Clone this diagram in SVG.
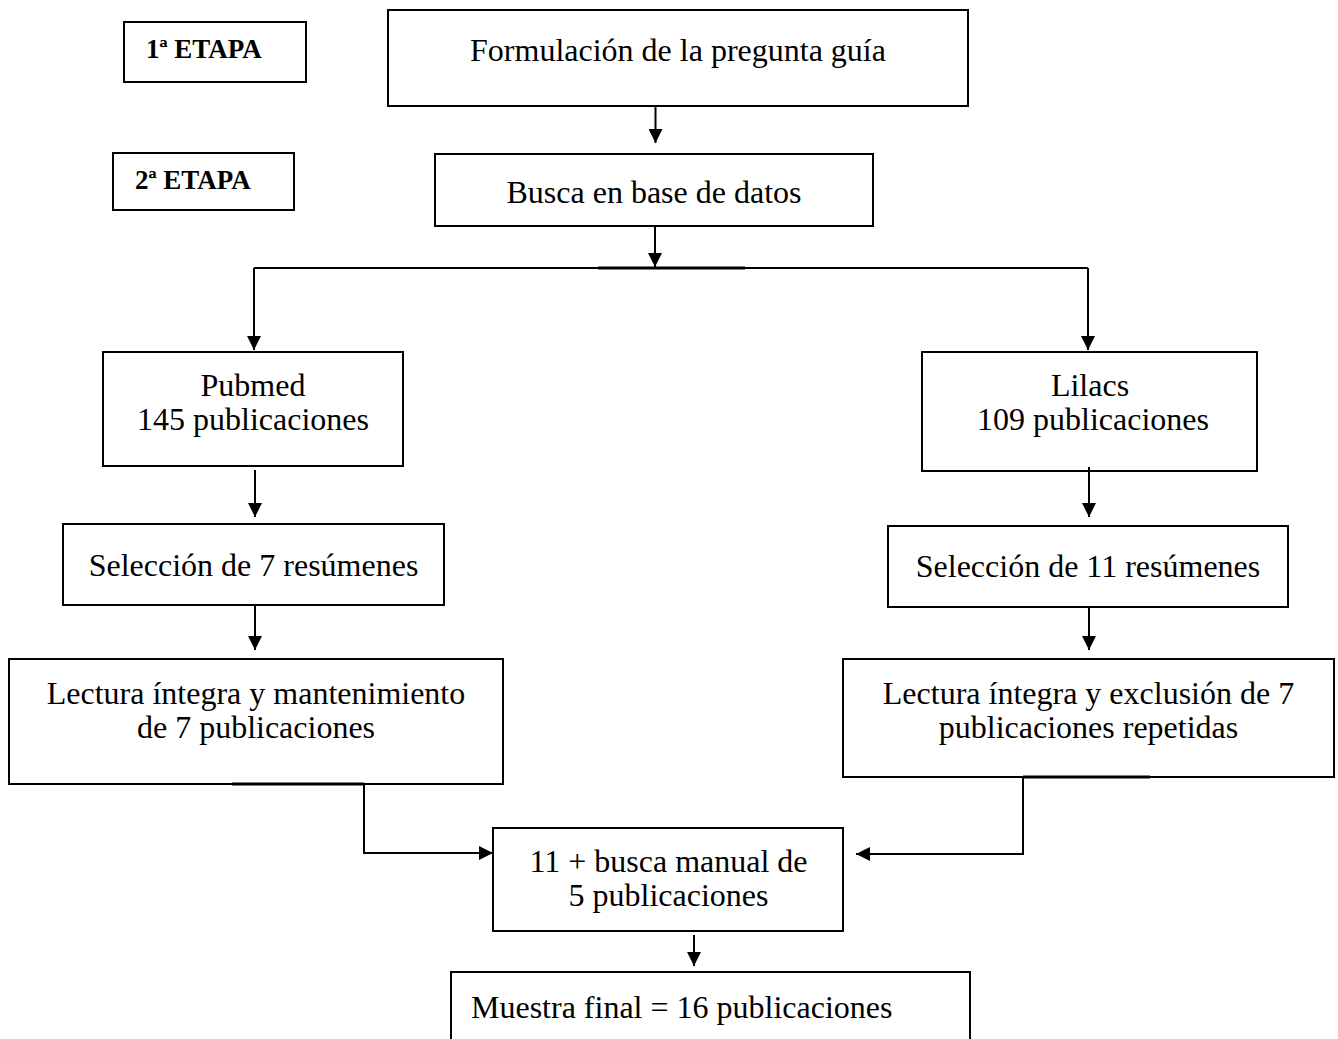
<svg xmlns="http://www.w3.org/2000/svg" width="1338" height="1039" viewBox="0 0 1338 1039">
<style>
  .box { fill: #fff; stroke: #000; stroke-width: 2; }
  .t { font-family: "Liberation Serif", "Times New Roman", serif; font-size: 32px; fill: #000; }
  .c { text-anchor: middle; }
  .b { font-family: "Liberation Serif", "Times New Roman", serif; font-size: 27px; font-weight: bold; fill: #000; }
  .ln { fill: none; stroke: #000; stroke-width: 2; }
  .arr { marker-end: url(#ah); }
  .thick { stroke: #000; stroke-width: 3; }
</style>
<defs>
  <marker id="ah" viewBox="0 0 10 10" refX="10" refY="5" markerUnits="userSpaceOnUse" markerWidth="15" markerHeight="14" orient="auto">
    <path d="M0,0 L10,5 L0,10 z" fill="#000"/>
  </marker>
</defs>
<rect width="1338" height="1039" fill="#fff"/>

<g id="etapa1">
  <rect class="box" x="124" y="22" width="182" height="60"/>
  <text class="b" x="146" y="58">1ª ETAPA</text>
</g>
<g id="etapa2">
  <rect class="box" x="113" y="153" width="181" height="57"/>
  <text class="b" x="135" y="189">2ª ETAPA</text>
</g>
<g id="formulacion">
  <rect class="box" x="388" y="10" width="580" height="96"/>
  <text class="t c" x="678" y="61">Formulación de la pregunta guía</text>
</g>
<g id="busca">
  <rect class="box" x="435" y="154" width="438" height="72"/>
  <text class="t c" x="654" y="203">Busca en base de datos</text>
</g>
<g id="pubmed">
  <rect class="box" x="103" y="352" width="300" height="114"/>
  <text class="t c" x="253" y="396">Pubmed</text>
  <text class="t c" x="253" y="430">145 publicaciones</text>
</g>
<g id="lilacs">
  <rect class="box" x="922" y="352" width="335" height="119"/>
  <text class="t c" x="1090" y="396">Lilacs</text>
  <text class="t c" x="1093" y="430">109 publicaciones</text>
</g>
<g id="seleccion7">
  <rect class="box" x="63" y="524" width="381" height="81"/>
  <text class="t c" x="253.5" y="576">Selección de 7 resúmenes</text>
</g>
<g id="seleccion11">
  <rect class="box" x="888" y="526" width="400" height="81"/>
  <text class="t c" x="1088" y="577">Selección de 11 resúmenes</text>
</g>
<g id="lectura1">
  <rect class="box" x="9" y="659" width="494" height="125"/>
  <text class="t c" x="256" y="704">Lectura íntegra y mantenimiento</text>
  <text class="t c" x="256" y="738">de 7 publicaciones</text>
</g>
<g id="lectura2">
  <rect class="box" x="843" y="659" width="491" height="118"/>
  <text class="t c" x="1088.5" y="704">Lectura íntegra y exclusión de 7</text>
  <text class="t c" x="1088.5" y="738">publicaciones repetidas</text>
</g>
<g id="manual">
  <rect class="box" x="493" y="828" width="350" height="103"/>
  <text class="t c" x="668.5" y="872">11 + busca manual de</text>
  <text class="t c" x="668.5" y="906">5 publicaciones</text>
</g>
<g id="muestra">
  <rect class="box" x="451" y="972" width="519" height="90"/>
  <text class="t" x="471" y="1018">Muestra final = 16 publicaciones</text>
</g>

<g id="connectors">
  <path class="ln arr" d="M655.5,106 V143"/>
  <path class="ln arr" d="M655,226 V267"/>
  <path class="ln" d="M254,268 H1088"/>
  <line class="thick" x1="598" y1="268" x2="745" y2="268"/>
  <path class="ln arr" d="M254,268 V350"/>
  <path class="ln arr" d="M1088,268 V350"/>
  <path class="ln arr" d="M255,470 V517"/>
  <path class="ln arr" d="M1089,467 V517"/>
  <path class="ln arr" d="M255,605 V650"/>
  <path class="ln arr" d="M1089,607 V650"/>
  <line class="thick" x1="232" y1="784" x2="364" y2="784"/>
  <path class="ln arr" d="M364,784 V853 H493"/>
  <line class="thick" x1="1023" y1="777" x2="1150" y2="777"/>
  <path class="ln arr" d="M1023,777 V854 H856"/>
  <path class="ln arr" d="M694,935 V966"/>
</g>
</svg>
